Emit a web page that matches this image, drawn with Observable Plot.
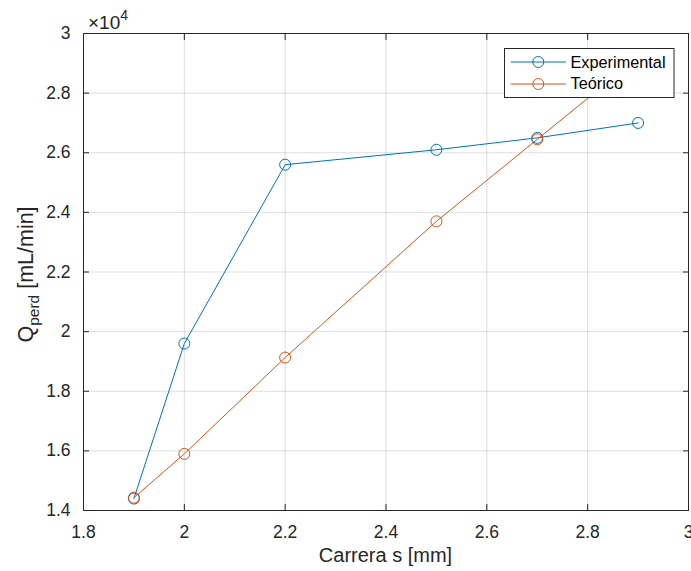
<!DOCTYPE html>
<html><head><meta charset="utf-8">
<script src="https://cdn.jsdelivr.net/npm/d3@7"></script>
<script src="https://cdn.jsdelivr.net/npm/@observablehq/plot@0.6"></script>
<style>html,body{margin:0;padding:0;background:#fff} svg{display:block}</style>
</head><body><div id="chart"></div>
<script>
// ---- data ----
const carrera = [1.9, 2.0, 2.2, 2.5, 2.7, 2.9];
const qExperimental = [14400, 19600, 25600, 26100, 26500, 27000];
const qTeorico = [14430, 15900, 19130, 23700, 26450, 29200];
const seriesNames = ["Experimental", "Teórico"];
const seriesColors = ["#0072BD", "#D95319"];
const xTicks = [1.8, 2.0, 2.2, 2.4, 2.6, 2.8, 3.0];
const xTickLabels = ["1.8", "2", "2.2", "2.4", "2.6", "2.8", "3"];
const yTicks = [14000, 16000, 18000, 20000, 22000, 24000, 26000, 28000, 30000];
const yTickLabels = ["1.4", "1.6", "1.8", "2", "2.2", "2.4", "2.6", "2.8", "3"];
const xLabel = "Carrera s [mm]";
const yLabelMain = "Q", yLabelSub = "perd", yLabelRest = " [mL/min]";
const exponentBase = "×10", exponentPow = "4";

const rows = [];
carrera.forEach((s, i) => rows.push({s, q: qExperimental[i], serie: seriesNames[0]}));
carrera.forEach((s, i) => rows.push({s, q: qTeorico[i], serie: seriesNames[1]}));

const xMap = new Map(xTicks.map((t, i) => [t, xTickLabels[i]]));
const yMap = new Map(yTicks.map((t, i) => [t, yTickLabels[i]]));

const W = 691, H = 571, mL = 83, mR = 3, mT = 33, mB = 61;
const ink = "#262626";
const font = "'Liberation Sans', Arial, Helvetica, sans-serif";

const svgEl = Plot.plot({
  width: W, height: H,
  marginLeft: mL, marginRight: mR, marginTop: mT, marginBottom: mB,
  style: {fontFamily: font, fontSize: "17.5px", color: ink, background: "white", overflow: "visible"},
  x: {domain: [1.8, 3], label: null},
  y: {domain: [14000, 30000], label: null},
  color: {domain: seriesNames, range: seriesColors},
  marks: [
    Plot.gridX(xTicks, {stroke: ink, strokeOpacity: 0.15}),
    Plot.gridY(yTicks, {stroke: ink, strokeOpacity: 0.15}),
    Plot.line(rows, {x: "s", y: "q", stroke: "serie", strokeWidth: 1}),
    Plot.dot(rows, {x: "s", y: "q", stroke: "serie", r: 5.5, fill: "none", strokeWidth: 1}),
    Plot.frame({stroke: ink, strokeWidth: 1}),
    Plot.axisX(xTicks, {anchor: "bottom", tickSize: -6, tickPadding: 21, tickFormat: d => xMap.get(d), stroke: ink, fill: ink, fontSize: 17.5}),
    Plot.axisX(xTicks, {anchor: "top", tickSize: -6, tickFormat: () => "", stroke: ink}),
    Plot.axisY(yTicks, {anchor: "left", tickSize: -6, tickPadding: 19, tickFormat: d => yMap.get(d), stroke: ink, fill: ink, fontSize: 17.5}),
    Plot.axisY(yTicks, {anchor: "right", tickSize: -6, tickFormat: () => "", stroke: ink})
  ]
});
document.getElementById("chart").appendChild(svgEl);

const svg = d3.select(svgEl);

// x label
svg.append("text")
  .attr("x", (mL + W - mR) / 2).attr("y", 562)
  .attr("text-anchor", "middle")
  .attr("fill", ink)
  .style("font-family", font).style("font-size", "20px")
  .text(xLabel);

// y label with subscript
const yl = svg.append("text")
  .attr("transform", "translate(33,274.5) rotate(-90)")
  .attr("text-anchor", "middle")
  .attr("fill", ink)
  .style("font-family", font).style("font-size", "21.5px");
yl.append("tspan").text(yLabelMain);
yl.append("tspan").attr("dy", 6).style("font-size", "15.5px").text(yLabelSub);
yl.append("tspan").attr("dy", -6).text(yLabelRest);

// exponent label
const ex = svg.append("text")
  .attr("x", 88).attr("y", 29)
  .attr("text-anchor", "start")
  .attr("fill", ink)
  .style("font-family", font).style("font-size", "19px");
ex.append("tspan").text(exponentBase);
ex.append("tspan").attr("dy", -9).style("font-size", "14px").text(exponentPow);

// legend
const lg = svg.append("g");
lg.append("rect")
  .attr("x", 504.5).attr("y", 48.5).attr("width", 169.5).attr("height", 49)
  .attr("fill", "white").attr("stroke", ink).attr("stroke-width", 1);
const legY = [62, 84];
const legBase = [68.3, 89.3];
seriesNames.forEach((name, i) => {
  lg.append("line")
    .attr("x1", 510.7).attr("x2", 566).attr("y1", legY[i]).attr("y2", legY[i])
    .attr("stroke", seriesColors[i]).attr("stroke-width", 1);
  lg.append("circle")
    .attr("cx", 538.3).attr("cy", legY[i]).attr("r", 5.5)
    .attr("fill", "none").attr("stroke", seriesColors[i]).attr("stroke-width", 1);
  lg.append("text")
    .attr("x", 570.5).attr("y", legBase[i])
    .attr("text-anchor", "start")
    .attr("fill", "#000")
    .style("font-family", font).style("font-size", "16.3px")
    .text(name);
});
</script>
</body></html>
